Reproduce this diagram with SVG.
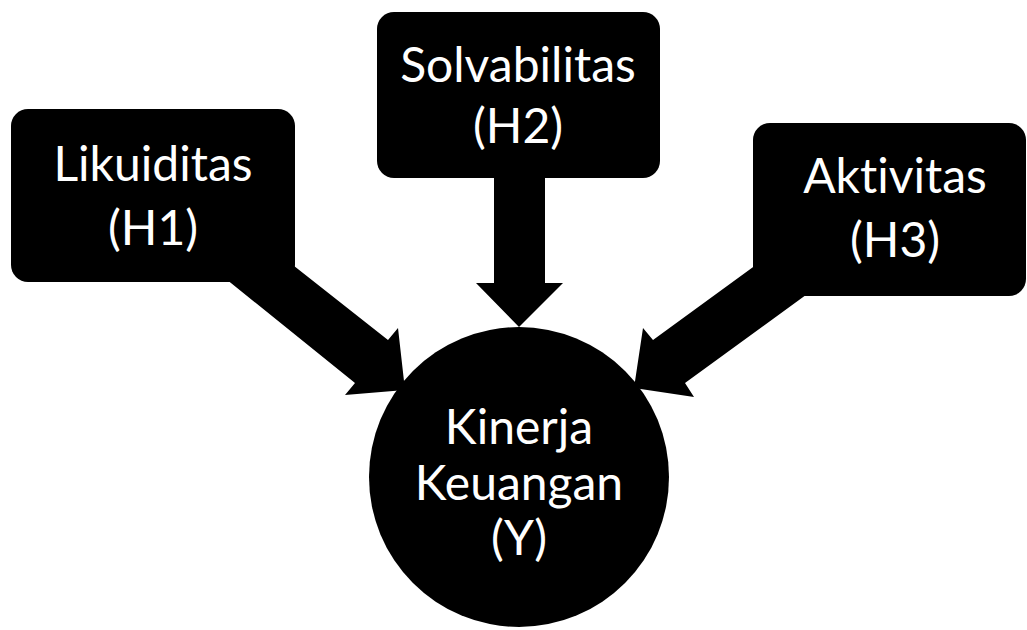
<svg xmlns="http://www.w3.org/2000/svg" width="1027" height="630" viewBox="0 0 1027 630">
<style>
.shape{fill:#000}
.lbl{fill:#fff;font-family:Lato,"Open Sans","Liberation Sans",sans-serif;font-size:48px;text-anchor:middle;font-variant-ligatures:none}
</style>
<rect width="1027" height="630" fill="#fff"/>
<g id="connectors">
<polygon class="shape" points="270,247 388,340 398,328 405,390 345,395 355,383 205,262"/>
<polygon class="shape" points="494,170 545,170 545,283 563,283 519,327 476,283 494,283"/>
<polygon class="shape" points="760,262 653,340 643,328 634,388 694,397 685,383 810,292"/>
</g>
<g id="h1">
<rect class="shape" x="11" y="109" width="284" height="173" rx="17"/>
<text class="lbl" x="153" y="181">Likuiditas</text>
<text class="lbl" x="153" y="245">(H1)</text>
</g>
<g id="h2">
<rect class="shape" x="377" y="12" width="283" height="166" rx="17"/>
<text class="lbl" x="518" y="82">Solvabilitas</text>
<text class="lbl" x="518" y="143">(H2)</text>
</g>
<g id="h3">
<rect class="shape" x="753" y="123" width="273" height="173" rx="17"/>
<text class="lbl" x="895" y="193">Aktivitas</text>
<text class="lbl" x="895" y="257">(H3)</text>
</g>
<g id="y">
<circle class="shape" cx="519" cy="477" r="150"/>
<text class="lbl" x="519" y="444">Kinerja</text>
<text class="lbl" x="519" y="500">Keuangan</text>
<text class="lbl" x="519" y="555">(Y)</text>
</g>
</svg>
